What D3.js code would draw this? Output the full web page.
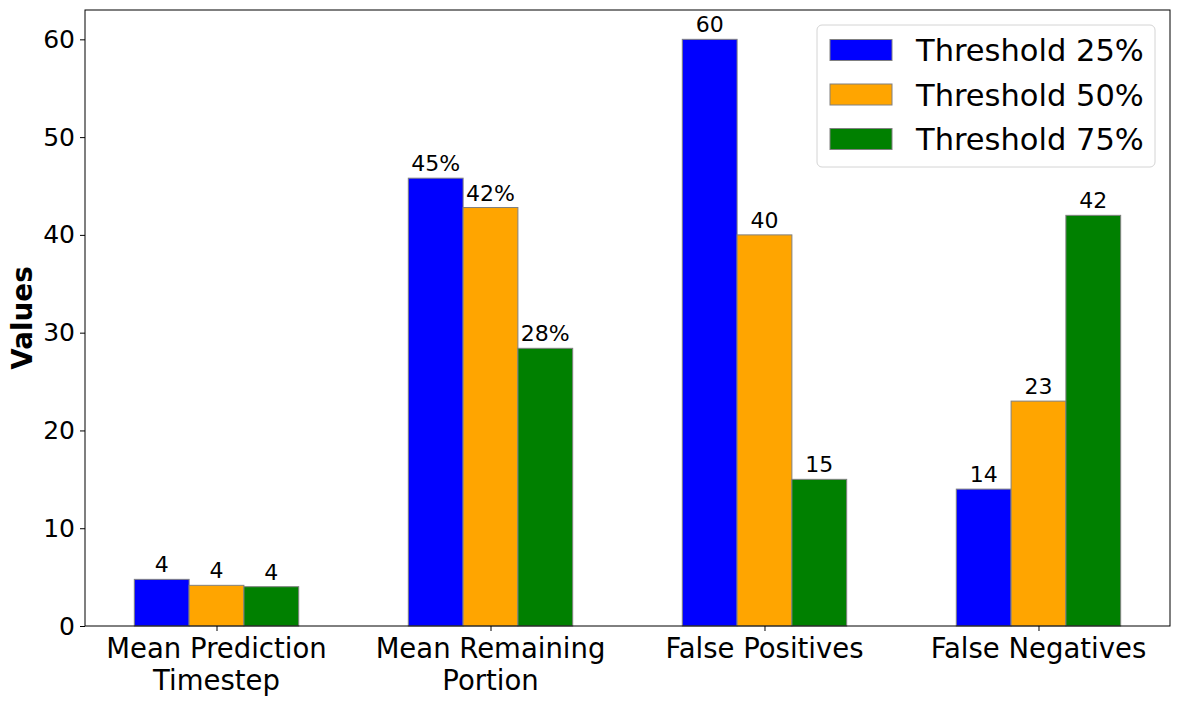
<!DOCTYPE html>
<html lang="en">
<head>
    <meta charset="UTF-8">
    <title>Threshold comparison</title>
    <style>
        body { margin: 0; background: #fff; }
        svg { display: block; font-family: "DejaVu Sans", sans-serif; }
        .axis path, .axis line { stroke: #000; }
    </style>
</head>
<body>
    <svg id="chart" width="1180" height="706"></svg>
    <script src="https://d3js.org/d3.v7.min.js"></script>
    <script>
        // Chart data
        const categories = [["Mean Prediction", "Timestep"], ["Mean Remaining", "Portion"], ["False Positives"], ["False Negatives"]];
        const seriesNames = ["Threshold 25%", "Threshold 50%", "Threshold 75%"];
        const seriesColors = ["#0000ff", "#ffa500", "#008000"];
        const threshold25 = [4.77, 45.8, 60, 14];
        const threshold50 = [4.16, 42.8, 40, 23];
        const threshold75 = [4.02, 28.4, 15, 42];
        const labelSuffix = ["", "%", "", ""];
        const yTicks = [0, 10, 20, 30, 40, 50, 60];

        const series = [threshold25, threshold50, threshold75];

        const svg = d3.select("#chart");
        const plotLeft = 85, plotRight = 1170, plotTop = 10, plotBottom = 626;

        // x: groups at 0..3, bars of width 0.2 at offsets -0.2, 0, 0.2
        const barW = 0.2;
        const x = d3.scaleLinear().domain([-0.48, 3.48]).range([plotLeft, plotRight]);
        const y = d3.scaleLinear().domain([0, 63]).range([plotBottom, plotTop]);

        // bars
        series.forEach((vals, s) => {
            svg.append("g").selectAll("rect")
                .data(vals)
                .enter().append("rect")
                .attr("x", (d, g) => x(g + (s - 1) * barW - barW / 2))
                .attr("width", x(barW) - x(0))
                .attr("y", d => y(d))
                .attr("height", d => y(0) - y(d))
                .attr("fill", seriesColors[s])
                .attr("stroke", "#808080")
                .attr("stroke-width", 1);

            svg.append("g").selectAll("text")
                .data(vals)
                .enter().append("text")
                .attr("x", (d, g) => x(g + (s - 1) * barW))
                .attr("y", d => y(d) - 7)
                .attr("text-anchor", "middle")
                .attr("font-size", "22px")
                .text((d, g) => Math.floor(d) + labelSuffix[g]);
        });

        // y axis
        const yAxis = svg.append("g")
            .attr("class", "axis")
            .attr("transform", `translate(${plotLeft},0)`)
            .call(d3.axisLeft(y).tickValues(yTicks).tickSize(5).tickPadding(5).tickSizeOuter(0));
        yAxis.select(".domain").remove();
        yAxis.selectAll("text").attr("font-size", "25px").attr("fill", "#000").attr("font-family", "DejaVu Sans");

        // x axis
        const xAxis = svg.append("g")
            .attr("class", "axis")
            .attr("transform", `translate(0,${plotBottom})`)
            .call(d3.axisBottom(x).tickValues([0, 1, 2, 3]).tickSize(5).tickFormat("").tickSizeOuter(0));
        xAxis.select(".domain").remove();

        const xl = svg.append("g").selectAll("text")
            .data(categories)
            .enter().append("text")
            .attr("x", (d, g) => x(g))
            .attr("y", 658)
            .attr("text-anchor", "middle")
            .attr("font-size", "27.5px");
        xl.selectAll("tspan")
            .data(d => d)
            .enter().append("tspan")
            .attr("x", function () { return this.parentNode.getAttribute("x"); })
            .attr("dy", (d, i) => i === 0 ? 0 : 32)
            .text(d => d);

        // frame
        svg.append("rect")
            .attr("x", plotLeft).attr("y", plotTop)
            .attr("width", plotRight - plotLeft).attr("height", plotBottom - plotTop)
            .attr("fill", "none").attr("stroke", "#000").attr("stroke-width", 1);

        // y label
        svg.append("text")
            .attr("transform", `translate(32,${(plotTop + plotBottom) / 2}) rotate(-90)`)
            .attr("text-anchor", "middle")
            .attr("font-size", "27.8px")
            .attr("font-weight", "bold")
            .text("Values");

        // legend
        const legend = svg.append("g");
        legend.append("rect")
            .attr("x", 817).attr("y", 25)
            .attr("width", 338).attr("height", 142)
            .attr("rx", 5)
            .attr("fill", "#fff").attr("fill-opacity", 0.8)
            .attr("stroke", "#d4d4d4");
        seriesNames.forEach((name, s) => {
            const cy = 50 + s * 44.5;
            legend.append("rect")
                .attr("x", 830).attr("y", cy - 10.5)
                .attr("width", 62).attr("height", 21)
                .attr("fill", seriesColors[s])
                .attr("stroke", "#808080");
            legend.append("text")
                .attr("x", 916).attr("y", cy + 11)
                .attr("font-size", "30.5px")
                .text(name);
        });
    </script>
</body>
</html>
